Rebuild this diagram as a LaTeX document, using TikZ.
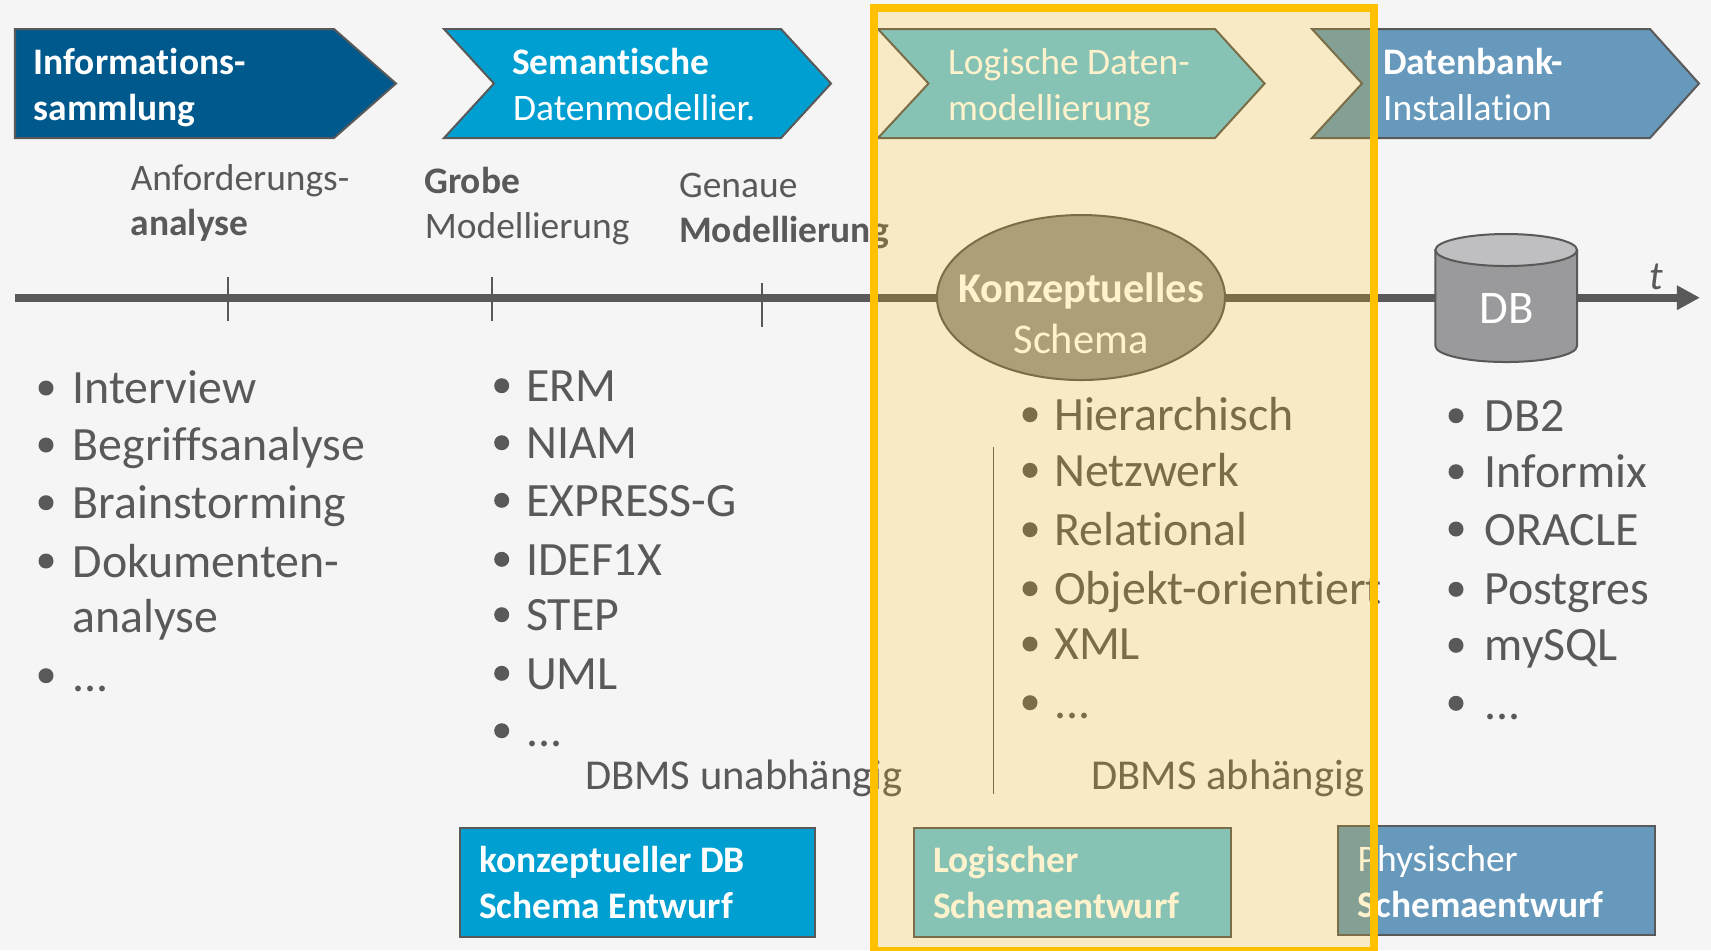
\documentclass[tikz,border=0pt]{standalone}
\usepackage{fontspec}
\setmainfont{Carlito}[Ligatures=NoCommon]
\usetikzlibrary{arrows.meta}
\definecolor{pagebg}{HTML}{F5F5F5}
\definecolor{darkgray}{HTML}{595959}
\definecolor{infoblue}{HTML}{00598C}
\definecolor{semblue}{HTML}{009FD1}
\definecolor{logblue}{HTML}{6AC4E2}
\definecolor{physblue}{HTML}{6699BB}
\definecolor{schemagray}{HTML}{989898}
\definecolor{dbgray}{HTML}{9A9A9C}
\definecolor{dbtop}{HTML}{BFBFC1}
\definecolor{marker}{HTML}{FFC000}
\tikzset{
  shapeline/.style = {draw=darkgray,line width=0.2mm,line join=miter},
  lbl/.style = {anchor=base west,inner sep=0pt,xshift=-0.15mm,yshift=-0.1mm,text=darkgray,font=\fontsize{10.65}{13}\selectfont},
  head/.style = {lbl,text=white},
  item/.style = {lbl,font=\fontsize{13.6}{16}\selectfont},
  note/.style = {lbl,font=\fontsize{12.1}{15}\selectfont}
}
\newcommand{\moredots}{...}

\begin{document}
\begin{tikzpicture}[x=0.01cm,y=-0.01cm]
  \useasboundingbox (0,0) rectangle (1711,950);
  \fill[pagebg] (0,0) rectangle (1711,950);

  % process arrows
  \draw[shapeline,fill=infoblue] (15,29) -- (334,29) -- (396,83.5) -- (334,138) -- (15,138) -- cycle;
  \foreach \lx/\nx/\rx/\tx/\col in {444/494/781/831/semblue,878/928.5/1215/1264.6/logblue,1312/1362/1650/1699/physblue}
    \draw[shapeline,fill=\col] (\lx,29) -- (\rx,29) -- (\tx,83.5) -- (\rx,138) -- (\lx,138) -- (\nx,83.5) -- cycle;

  \begin{scope}[yshift=-0.1mm]
  \node[head] (infoa) at (34.5,72) {\textbf{Informations-}};
  \node[head] (infob) at (34.5,118) {\textbf{sammlung}};
  \node[head] (sema) at (513,72) {\textbf{Semantische}};
  \node[head] (semb) at (514,118) {Datenmodellier.};
  \node[head] (loga) at (949,72) {Logische Daten-};
  \node[head] (logb) at (949,118) {modellierung};
  \node[head] (dba) at (1384,72) {\textbf{Datenbank-}};
  \node[head] (dbb) at (1384,118) {Installation};

  % phases above the time line
  \node[lbl] (anfa) at (131.6,188) {Anforderungs-};
  \node[lbl] (anfb) at (131.6,233) {\textbf{analyse}};
  \node[lbl] (groba) at (425,191.7) {\textbf{Grobe}};
  \node[lbl] (grobb) at (425.7,236.7) {Modellierung};
  \node[lbl] (gena) at (680,195.7) {Genaue};
  \node[lbl] (genb) at (680,240.7) {\textbf{Modellierung}};

  % time line
  \coordinate (tstart) at (15,296.7);
  \coordinate (tend) at (1700,296.7);
  \draw[darkgray,line width=0.8mm,-{Triangle[length=2.3mm,width=2.3mm]}] (tstart) -- (tend);
  \draw[darkgray,line width=0.13mm] (228,276) -- (228,320);
  \draw[darkgray,line width=0.13mm] (492,276) -- (492,320);
  \draw[darkgray,line width=0.13mm] (762,282) -- (762,326);
  \node[lbl,font=\fontsize{11.5}{14}\selectfont\itshape] (tlabel) at (1650,287) {t};

  % schema and database
  \draw[shapeline,fill=schemagray] (1081,296.5) ellipse [x radius=144,y radius=82.5];
  \node[lbl,anchor=base,text=white,font=\fontsize{12.05}{15}\selectfont\bfseries] (konza) at (1082.5,300) {Konzeptuelles};
  \node[lbl,anchor=base,text=white,font=\fontsize{12.05}{15}\selectfont] (konzb) at (1082.5,351) {Schema};
  \draw[shapeline,fill=dbgray] (1435.4,249) -- (1435.4,345) arc [start angle=180,end angle=0,x radius=70.8,y radius=16] -- (1577,249) -- cycle;
  \draw[shapeline,fill=dbtop] (1506.2,249) ellipse [x radius=70.8,y radius=16];
  \node[lbl,anchor=base,text=white,font=\fontsize{13.3}{16}\selectfont] (dbtext) at (1508,321) {DB};

  % lists
  \foreach \by/\ty/\txt [count=\i] in {387/401/Interview,444/458.3/Begriffsanalyse,501.7/516.7/Brainstorming,560/575/Dokumenten-,674.7/689/\moredots}{
    \fill[darkgray] (46,\by) circle (7.5);
    \node[item] (infoitem\i) at (73.5,\ty) {\txt};
  }
  \node[item] (infoitemb) at (73.5,630.7) {analyse};
  \foreach \by/\ty/\txt [count=\i] in {384.7/399.3/ERM,441.7/456.7/NIAM,499.3/514.3/EXPRESS-G,558.3/573.3/IDEF1X,613.7/628.7/STEP,672.3/687.3/UML,729.7/744.7/\moredots}{
    \fill[darkgray] (501.7,\by) circle (7.5);
    \node[item] (semitem\i) at (527,\ty) {\txt};
  }
  \foreach \by/\ty/\txt [count=\i] in {413.7/428.3/Hierarchisch,469.3/484.3/Netzwerk,528.7/543.3/Relational,587.7/602.3/Objekt-orientiert,643/657.3/XML,701.7/716.7/\moredots}{
    \fill[darkgray] (1030,\by) circle (7.5);
    \node[item] (logitem\i) at (1055,\ty) {\txt};
  }
  \foreach \by/\ty/\txt [count=\i] in {414.7/429/DB2,470.7/485/Informix,528/543.3/ORACLE,588.3/602.3/Postgres,644.3/658.3/mySQL,702.3/717.7/\moredots}{
    \fill[darkgray] (1456,\by) circle (7.5);
    \node[item] (dbitem\i) at (1485.6,\ty) {\txt};
  }
  \draw[darkgray,line width=0.15mm] (993.6,446.3) -- (993.6,793);
  \node[note] (unabh) at (586,787.5) {DBMS unabhängig};
  \node[note] (abh) at (1092.4,787.5) {DBMS abhängig};

  % design steps
  \draw[shapeline,fill=semblue] (460,826.7) rectangle (814.7,936);
  \draw[shapeline,fill=logblue] (913.7,826.7) rectangle (1231,936);
  \draw[shapeline,fill=physblue] (1338,825) rectangle (1655,934);
  \node[head] (konstepa) at (480,870.7) {\textbf{konzeptueller DB}};
  \node[head] (konstepb) at (480,916.7) {\textbf{Schema Entwurf}};
  \node[head] (logstepa) at (934,870.7) {\textbf{Logischer}};
  \node[head] (logstepb) at (934,916.7) {\textbf{Schemaentwurf}};
  \node[head] (phystepa) at (1358.5,869) {Physischer};
  \node[head] (phystepb) at (1358.5,915) {\textbf{Schemaentwurf}};
  \end{scope}

  % marked phase
  \fill[marker,fill opacity=0.2] (874,8) rectangle (1374,951);
  \draw[marker,line width=0.8mm] (874,8) rectangle (1374,951);
\end{tikzpicture}
\end{document}
